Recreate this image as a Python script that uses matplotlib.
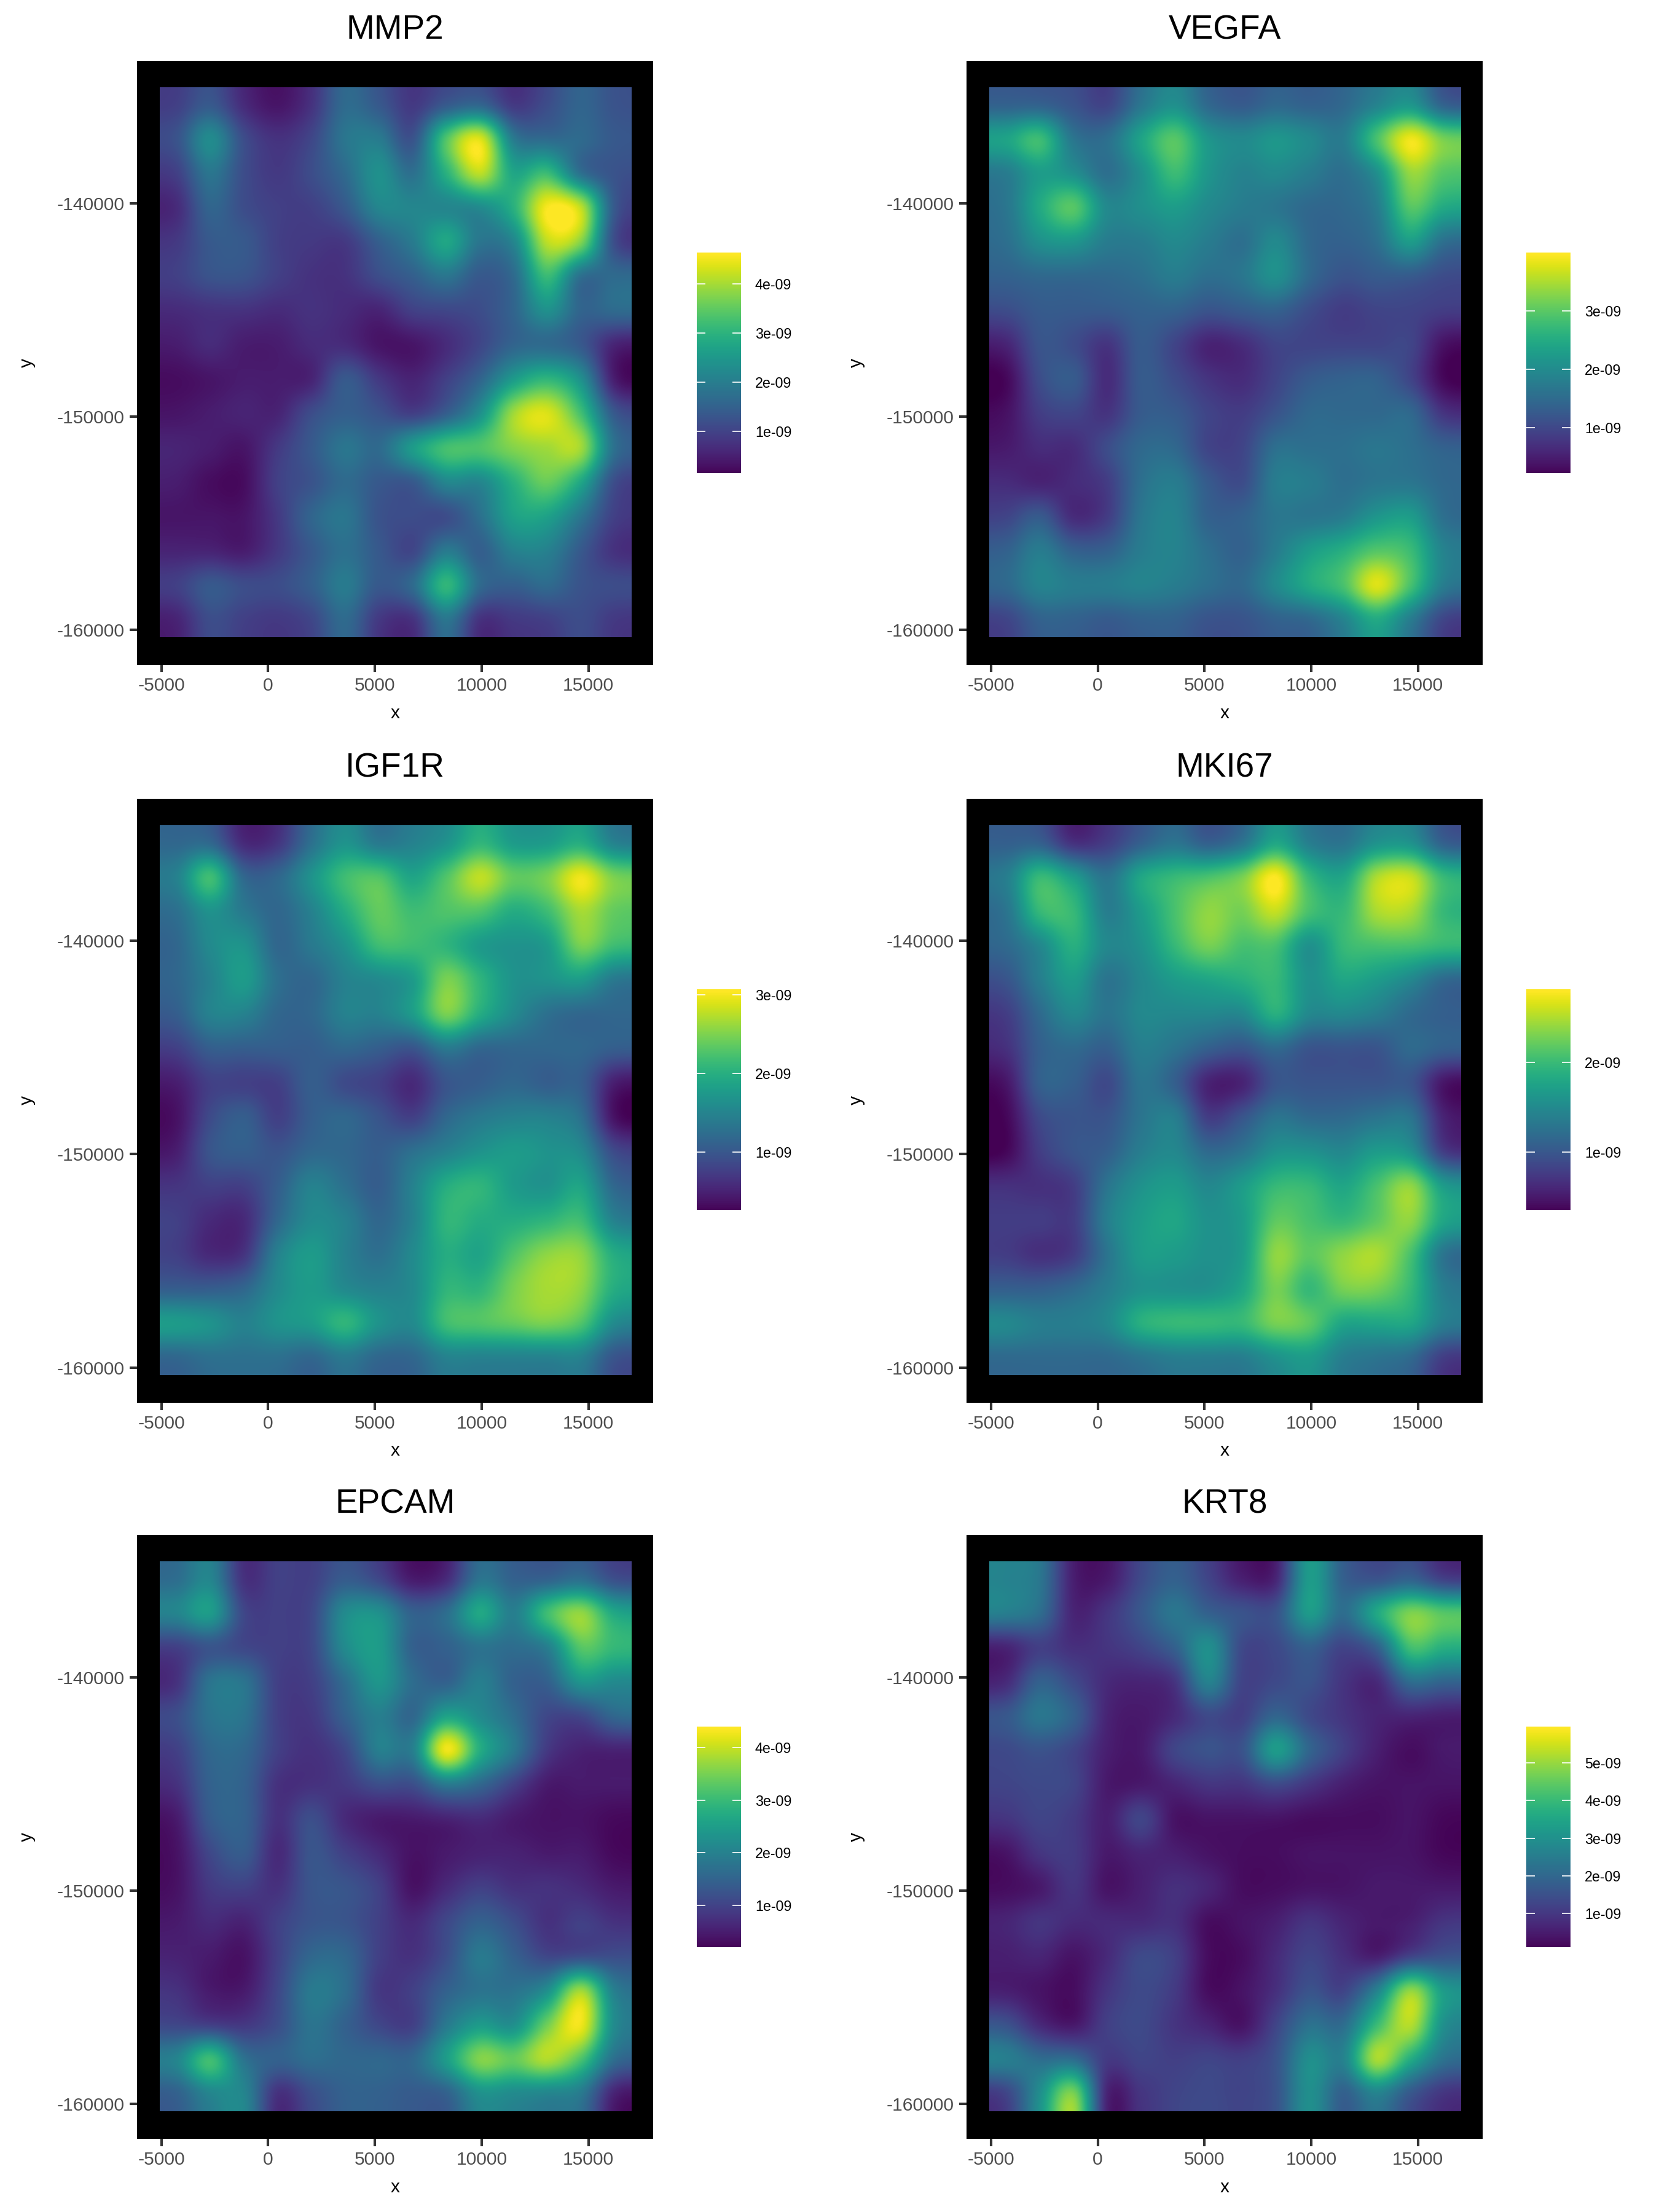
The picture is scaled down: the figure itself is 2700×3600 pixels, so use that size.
import numpy as np
import matplotlib
matplotlib.use('Agg')
import matplotlib.pyplot as plt

plt.rcParams['font.family'] = ['Liberation Sans', 'DejaVu Sans']
plt.rcParams['axes.unicode_minus'] = False

# smoothed expression on a coarse spot grid, in units of 1e-10, top row first
MMP2 = [
    [10,14,7,4,8,17,14,9,14,16,9,12,16,13],
    [13,23,12,8,11,19,20,13,34,44,20,17,17,14],
    [10,19,12,9,12,17,24,18,30,42,28,32,18,13],
    [7,16,12,10,10,14,22,22,22,23,30,46,42,14],
    [9,14,14,10,9,9,15,20,28,19,22,42,38,12],
    [10,13,13,10,8,8,12,15,19,14,17,32,18,17],
    [7,8,8,7,8,7,6,10,11,12,16,24,16,17],
    [5,7,5,5,7,7,4,4,7,11,16,17,14,6],
    [3,4,5,5,6,14,9,6,10,16,26,31,24,5],
    [4,5,6,6,12,15,13,10,15,24,40,44,33,14],
    [6,5,4,9,14,19,17,26,33,34,38,40,40,18],
    [5,3,3,10,13,17,14,14,22,22,30,36,28,12],
    [4,4,4,9,16,19,13,12,12,18,27,27,19,10],
    [6,6,5,9,14,18,14,11,20,15,21,21,14,8],
    [10,14,12,12,15,20,14,17,31,17,15,17,13,12],
    [6,12,10,9,11,17,9,8,19,8,9,10,12,9],
]
VEGFA = [
    [14,14,12,10,17,21,15,13,15,14,15,19,22,14],
    [24,28,17,16,24,30,22,20,22,20,18,29,39,32],
    [18,23,21,16,21,28,22,19,20,18,16,21,34,30],
    [17,25,30,20,21,23,20,18,17,15,15,18,30,25],
    [16,21,22,18,18,20,18,16,20,15,14,16,23,16],
    [14,15,15,15,16,18,16,17,21,15,12,13,13,11],
    [11,13,13,13,14,14,12,13,14,11,9,10,10,9],
    [6,12,11,8,13,10,6,7,10,10,10,10,10,4],
    [3,11,13,7,13,11,8,7,10,13,14,14,10,3],
    [4,9,10,8,13,13,10,9,12,15,15,15,15,8],
    [5,7,7,11,15,15,10,10,16,16,16,17,16,14],
    [7,6,7,9,16,18,13,11,18,18,16,17,17,15],
    [10,13,7,9,17,19,14,14,17,17,18,22,23,16],
    [14,18,14,14,18,19,16,14,18,23,26,30,28,19],
    [15,19,18,18,19,18,16,15,20,25,29,38,29,18],
    [10,14,14,13,14,14,12,12,14,15,19,25,18,10],
]
IGF1R = [
    [12,12,6,7,13,17,14,15,17,21,18,18,20,15],
    [15,22,12,12,17,22,23,19,23,28,24,25,30,25],
    [13,17,14,12,15,20,24,22,23,23,20,22,27,24],
    [12,16,17,12,14,17,22,22,21,18,17,18,25,22],
    [12,15,18,13,12,15,16,18,25,21,17,17,18,14],
    [11,15,15,12,12,15,15,18,25,20,16,13,12,12],
    [8,11,11,11,11,12,11,10,14,12,12,12,12,11],
    [5,8,8,8,11,9,8,6,10,11,12,11,11,5],
    [4,9,11,8,11,12,10,8,12,14,15,15,13,4],
    [5,10,11,10,12,12,11,13,15,17,18,17,16,9],
    [7,8,8,11,15,13,11,15,20,21,18,17,19,12],
    [8,6,6,12,16,15,12,15,21,20,20,21,22,15],
    [8,6,7,15,18,15,13,16,20,19,23,26,26,20],
    [11,11,12,16,18,16,15,16,21,21,25,27,26,20],
    [18,17,15,17,18,21,17,16,22,23,24,25,23,16],
    [12,13,13,13,12,14,12,12,15,15,15,15,15,10],
]
MKI67 = [
    [11,11,7,8,11,13,11,13,18,14,13,16,16,11],
    [14,20,17,13,18,20,21,23,28,20,18,25,26,20],
    [13,20,20,14,17,21,24,23,26,21,20,25,25,20],
    [12,15,19,15,16,20,23,21,21,16,20,21,21,20],
    [10,14,17,13,15,17,18,19,20,16,18,17,15,12],
    [8,12,15,13,15,15,15,15,19,15,15,14,12,11],
    [7,11,12,11,14,13,11,10,12,10,10,10,12,11],
    [5,11,11,9,13,11,6,6,10,10,10,10,10,5],
    [4,9,10,10,13,14,8,10,13,12,12,13,13,6],
    [4,8,10,11,14,15,12,13,16,16,15,17,16,8],
    [7,7,8,13,16,17,15,17,20,20,18,21,24,17],
    [8,8,8,14,17,18,16,17,22,21,20,22,24,18],
    [8,7,8,13,17,17,16,17,24,22,24,25,21,13],
    [11,11,12,14,16,16,16,18,23,20,23,23,20,14],
    [15,14,14,15,19,20,20,20,23,22,18,18,18,14],
    [12,12,12,12,13,14,14,14,16,17,14,13,12,8],
]
EPCAM = [
    [17,21,8,10,10,14,11,5,7,18,15,15,17,12],
    [21,25,11,10,11,22,23,15,17,27,20,31,37,27],
    [10,13,11,10,11,22,25,15,15,18,17,20,33,30],
    [8,18,18,10,10,17,24,17,15,20,15,15,24,22],
    [12,18,18,10,9,15,20,16,26,22,17,11,11,16],
    [10,16,16,10,8,11,20,20,43,28,19,9,6,6],
    [8,15,15,8,8,9,12,12,19,16,10,5,5,5],
    [5,14,15,8,12,7,5,5,6,7,5,4,4,3],
    [4,11,14,7,13,10,7,4,5,6,6,5,5,3],
    [4,9,10,8,13,13,10,4,7,10,8,8,7,5],
    [5,7,6,10,13,13,10,7,11,15,12,8,10,8],
    [6,5,4,10,16,16,10,8,12,19,15,11,12,12],
    [8,5,5,11,19,17,9,10,15,18,18,23,38,20],
    [11,10,9,12,18,15,11,10,19,25,23,35,43,22],
    [21,31,18,15,17,16,16,16,25,36,34,39,32,17],
    [15,21,21,8,12,15,15,14,15,23,22,21,19,6],
]
KRT8 = [
    [27,24,6,5,14,19,13,6,7,33,19,16,19,12],
    [26,22,7,10,17,24,19,16,16,33,22,36,48,44],
    [7,12,9,10,13,19,30,14,14,19,13,19,42,38],
    [8,19,14,8,7,10,27,13,14,16,10,8,22,20],
    [17,24,19,7,5,8,14,12,20,14,10,7,7,6],
    [14,16,13,6,5,13,16,16,33,20,12,6,3,5],
    [13,14,13,5,5,7,10,10,14,10,6,4,4,4],
    [10,13,11,6,13,4,4,4,4,3,3,3,4,2],
    [4,10,11,5,7,6,4,3,3,4,4,4,4,2],
    [3,5,10,4,6,9,7,3,3,4,4,5,5,5],
    [7,10,8,8,8,9,3,4,6,10,7,5,6,10],
    [6,7,4,8,14,12,3,3,8,13,9,6,13,16],
    [6,4,3,10,14,11,3,4,9,16,13,27,50,33],
    [16,8,5,12,14,10,7,4,13,23,22,41,53,30],
    [26,22,22,11,13,12,13,12,16,30,27,52,37,23],
    [13,30,48,7,10,13,14,13,16,30,19,27,17,10],
]

genes = ['MMP2', 'VEGFA', 'IGF1R', 'MKI67', 'EPCAM', 'KRT8']
grids = [MMP2, VEGFA, IGF1R, MKI67, EPCAM, KRT8]
# colour scale limits (1e-09)
vmins = [0.15, 0.23, 0.27, 0.36, 0.20, 0.10]
vmaxs = [4.64, 3.99, 3.07, 2.81, 4.40, 5.97]
bar_ticks = [[1, 2, 3, 4], [1, 2, 3], [1, 2, 3], [1, 2], [1, 2, 3, 4], [1, 2, 3, 4, 5]]

x_ticks = [-5000, 0, 5000, 10000, 15000]
y_ticks = [-140000, -150000, -160000]

W, H = 2700, 3600
fig = plt.figure(figsize=(9, 12), dpi=300, facecolor='white')


def box(x0, y0, x1, y1):
    # pixel box, y counted from the top
    return [x0 / W, 1 - y1 / H, (x1 - x0) / W, (y1 - y0) / H]


lefts = [222.7, 1572.8]
tops = [98.7, 1299.5, 2498]
bar_tops = [411, 1610, 2810]

for n, gene in enumerate(genes):
    col = n % 2
    row = n // 2
    left = lefts[col]
    top = tops[row]

    ax = fig.add_axes(box(left, top, left + 840.5, top + 983))
    ax.set_facecolor('black')
    vals = np.array(grids[n]) * 1e-10
    # catrom goes through the grid values, bicubic would flatten the peaks
    im = ax.imshow(vals, cmap='viridis', vmin=vmins[n] * 1e-9, vmax=vmaxs[n] * 1e-9,
                   extent=[-5070, 17020, -160345, -134570], aspect='auto',
                   interpolation='catrom', origin='upper')
    ax.set_xlim(-6151, 18037)
    ax.set_ylim(-161640, -133320)
    ax.set_xticks(x_ticks)
    ax.set_yticks(y_ticks)
    ax.tick_params(length=2.9, width=1.0, color='#333333', labelcolor='#4D4D4D',
                   labelsize=7.2, pad=2)
    for s in ax.spines.values():
        s.set_visible(False)
    ax.set_xlabel('x', fontsize=7.2)
    ax.set_ylabel('y', fontsize=7.2)
    ax.xaxis.set_label_coords(0.5, -0.066)
    ax.yaxis.set_label_coords(-0.196, 0.5)
    ax.set_title(gene, fontsize=13.2, pad=8.5)

    # legend bar
    bx = left + 911.3
    cax = fig.add_axes(box(bx, bar_tops[row], bx + 72, bar_tops[row] + 359))
    cb = fig.colorbar(im, cax=cax)
    cb.outline.set_visible(False)
    cb.solids.set_edgecolor('face')
    cb.set_ticks([t * 1e-9 for t in bar_ticks[n]])
    cb.set_ticklabels(['%de-09' % t for t in bar_ticks[n]])
    cax.tick_params(axis='y', which='both', direction='in', left=True, right=True,
                    length=3.4, width=0.4, color='white', labelsize=5.6, pad=5.5)
    cax.minorticks_off()

plt.savefig('out.png', dpi=300)
